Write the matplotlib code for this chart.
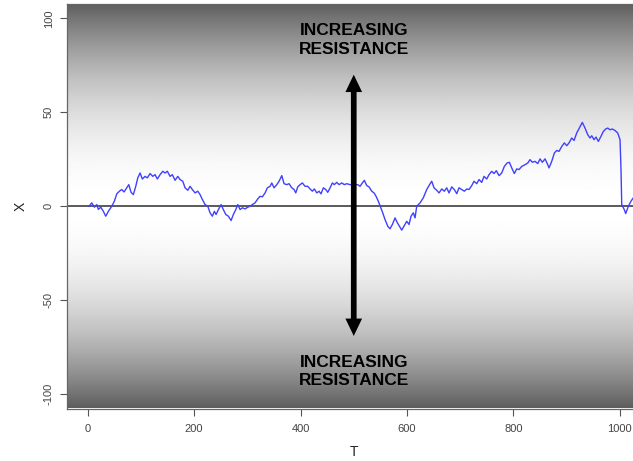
import numpy as np
import matplotlib
matplotlib.use("Agg")
import matplotlib.pyplot as plt
from matplotlib.patches import FancyArrowPatch

plt.rcParams['font.family'] = ['Liberation Sans', 'DejaVu Sans']

# ---- data ----
t_values = [2.4, 7.5, 12.4, 16.9, 19.9, 24.4, 29.3, 33.8, 38.7, 45.1, 50.0, 54.5, 59.4, 63.9,
            68.2, 73.3, 77.1, 81.4, 85.7, 90.2, 94.0, 98.3, 102.6, 107.7, 112.0, 117.1, 122.2,
            126.5, 130.8, 135.9, 141.0, 145.3, 149.6, 154.7, 159.0, 164.1, 169.2, 173.5, 178.6,
            182.9, 188.0, 192.3, 196.6, 201.7, 206.8, 211.1, 215.4, 220.5, 225.6, 229.9, 234.2,
            238.0, 241.2, 245.5, 250.6, 254.9, 259.4, 264.3, 269.4, 273.7, 278.2, 282.0, 286.3,
            290.6, 295.7, 300.8, 305.1, 309.4, 314.5, 319.5, 323.9, 328.2, 333.3, 337.6, 342.7,
            345.9, 350.2, 355.3, 359.6, 364.7, 369.0, 374.1, 378.4, 383.5, 387.8, 391.0, 394.7,
            399.1, 403.4, 408.5, 413.5, 417.9, 422.2, 425.9, 430.5, 434.8, 438.5, 442.9, 447.4,
            451.1, 455.5, 459.8, 463.5, 468.0, 472.4, 477.4, 482.3, 486.8, 493.0, 507.5, 511.8,
            516.2, 519.9, 524.4, 528.8, 533.8, 538.2, 541.9, 546.2, 550.8, 554.5, 558.8, 563.9,
            568.2, 572.6, 577.6, 582.0, 585.7, 590.2, 594.5, 599.6, 603.9, 607.7, 612.0, 615.2,
            618.4, 624.6, 630.8, 637.2, 641.5, 646.6, 650.9, 656.0, 660.3, 665.4, 670.3, 674.8,
            679.1, 684.2, 689.1, 693.6, 697.9, 703.0, 707.9, 712.4, 716.7, 721.8, 726.1, 731.2,
            735.5, 740.6, 744.9, 750.0, 754.3, 759.4, 763.7, 768.0, 773.1, 778.2, 783.1, 788.2,
            792.5, 797.0, 801.9, 806.4, 810.7, 815.8, 822.0, 827.1, 831.4, 835.7, 840.8, 845.9,
            850.2, 854.5, 859.6, 864.7, 867.1, 872.2, 877.1, 881.6, 885.9, 891.0, 895.9, 900.4,
            904.7, 909.8, 914.1, 919.2, 924.1, 929.7, 934.8, 939.8, 944.2, 947.4, 951.7, 955.5,
            959.8, 964.8, 969.2, 973.7, 977.4, 981.8, 986.1, 991.2, 996.2, 1000.6, 1002.4, 1003.8,
            1008.6, 1011.3, 1016.2, 1021.2, 1025.6]
x_values = [0.0, 1.8, -0.5, 0.9, -1.7, -0.5, -2.7, -5.3, -2.7, 0.0, 2.7, 6.6, 8.0, 8.9,
            7.6, 9.8, 11.5, 7.4, 6.2, 10.6, 15.1, 17.7, 14.5, 15.9, 15.1, 17.4, 15.9,
            16.8, 14.5, 16.8, 18.6, 17.7, 18.6, 15.9, 16.8, 13.8, 15.9, 14.2, 13.3,
            9.8, 8.5, 10.6, 8.9, 7.1, 8.0, 6.2, 3.6, 0.9, 0.0, -3.5, -5.3,
            -2.7, -4.4, -1.8, 0.9, -1.8, -4.4, -5.3, -7.6, -4.4, -1.8, 0.9, -1.8,
            -0.8, -1.4, -0.5, 0.0, 0.9, 1.8, 3.9, 5.3, 5.0, 7.1, 9.8, 10.6,
            12.4, 9.8, 11.5, 13.3, 16.3, 12.0, 11.5, 12.0, 9.8, 8.9, 7.1, 10.3,
            11.5, 12.4, 10.6, 10.6, 9.2, 8.0, 9.2, 7.1, 8.0, 6.6, 9.8, 8.9,
            7.4, 9.8, 12.4, 11.5, 12.7, 11.5, 12.4, 11.5, 12.0, 11.5, 11.5, 10.6,
            12.4, 13.8, 11.0, 10.3, 8.0, 7.1, 5.3, 2.7, -0.8, -3.5, -7.1, -10.6,
            -12.0, -9.7, -6.2, -8.8, -10.6, -12.7, -10.6, -8.0, -9.7, -5.3, -3.5, -6.2,
            0.0, 1.8, 4.5, 8.9, 11.0, 13.3, 9.8, 8.5, 7.1, 9.2, 8.0, 9.8,
            7.1, 10.3, 8.9, 6.7, 9.8, 8.9, 8.0, 9.2, 8.9, 11.0, 13.3, 12.0,
            14.2, 12.7, 15.9, 14.5, 16.8, 18.6, 17.4, 18.9, 16.3, 17.7, 21.2, 23.0,
            23.4, 20.4, 17.4, 19.9, 19.5, 21.2, 22.1, 23.0, 24.8, 23.4, 23.9, 22.7,
            25.2, 23.4, 25.2, 22.1, 20.4, 23.9, 28.3, 29.7, 29.2, 31.8, 33.7, 32.2,
            33.7, 36.3, 35.0, 39.0, 41.6, 44.6, 41.6, 38.1, 36.3, 37.5, 35.4, 36.8,
            34.5, 37.2, 39.8, 41.1, 41.6, 40.7, 41.1, 40.3, 39.0, 35.4, 19.5, 0.9,
            -1.8, -3.9, 0.0, 2.7, 4.5]
x_ticks = [0, 200, 400, 600, 800, 1000]
y_ticks = [-100, -50, 0, 50, 100]
arrow_t = 500
arrow_from, arrow_to = -69, 70
label_text = "INCREASING\nRESISTANCE"
label_y = [88.5, -88]

W, H = 633, 461
fig = plt.figure(figsize=(W / 100, H / 100), dpi=100)
fig.patch.set_facecolor('white')
left, right, top, bottom = 66.5, 641, 4, 408.5
ax = fig.add_axes([left / W, 1 - bottom / H, (right - left) / W, (bottom - top) / H])

xlim = (-40, 1040)
ylim = (-107.6, 107.6)
ax.set_xlim(*xlim)
ax.set_ylim(*ylim)

# gradient background: white at 0, dark gray at the extremes
yy = np.linspace(ylim[1], ylim[0], 400)
shade = 1 - 0.63 * (yy / ylim[1]) ** 2
img = np.repeat(shade[:, None], 2, axis=1)
ax.imshow(img, cmap='gray', vmin=0, vmax=1, extent=[xlim[0], xlim[1], ylim[0], ylim[1]],
          aspect='auto', interpolation='bilinear', zorder=0)

ax.axhline(0, color='#5a5a5a', lw=1.4, zorder=2)
ax.plot(t_values, x_values, color='#4040ff', lw=1.0, zorder=3)

# double-headed arrow: filled heads + thick shaft
head_len_pt = 12.5
heads = FancyArrowPatch((arrow_t, arrow_from), (arrow_t, arrow_to),
                        arrowstyle=f'<|-|>,head_length={head_len_pt/10},head_width=0.6',
                        mutation_scale=10, lw=0, facecolor='black', edgecolor='none',
                        zorder=4, shrinkA=0, shrinkB=0)
ax.add_patch(heads)
shaft = FancyArrowPatch((arrow_t, arrow_from), (arrow_t, arrow_to), arrowstyle='-',
                        lw=4.1, color='black', capstyle='butt', zorder=4,
                        shrinkA=head_len_pt - 1, shrinkB=head_len_pt - 1)
ax.add_patch(shaft)

for yv in label_y:
    ax.text(arrow_t, yv, label_text, ha='center', va='center', fontsize=12.5,
            fontweight='bold', color='black', linespacing=1.28, zorder=5)

ax.set_xticks(x_ticks)
ax.set_yticks(y_ticks)
ax.set_xticklabels([str(v) for v in x_ticks])
ax.set_yticklabels([str(v) for v in y_ticks], rotation=90, va='center')
ax.tick_params(axis='both', direction='out', length=5, width=0.8, color='#555555',
               labelsize=8, labelcolor='#444444')
ax.tick_params(axis='x', pad=6)
ax.tick_params(axis='y', pad=4)
for s in ax.spines.values():
    s.set_color('#666666')
    s.set_linewidth(0.9)

ax.set_xlabel('T', fontsize=10, color='#222222', labelpad=8)
ax.set_ylabel('X', fontsize=10, color='#222222', labelpad=12)

fig.savefig('out.png', dpi=100)
